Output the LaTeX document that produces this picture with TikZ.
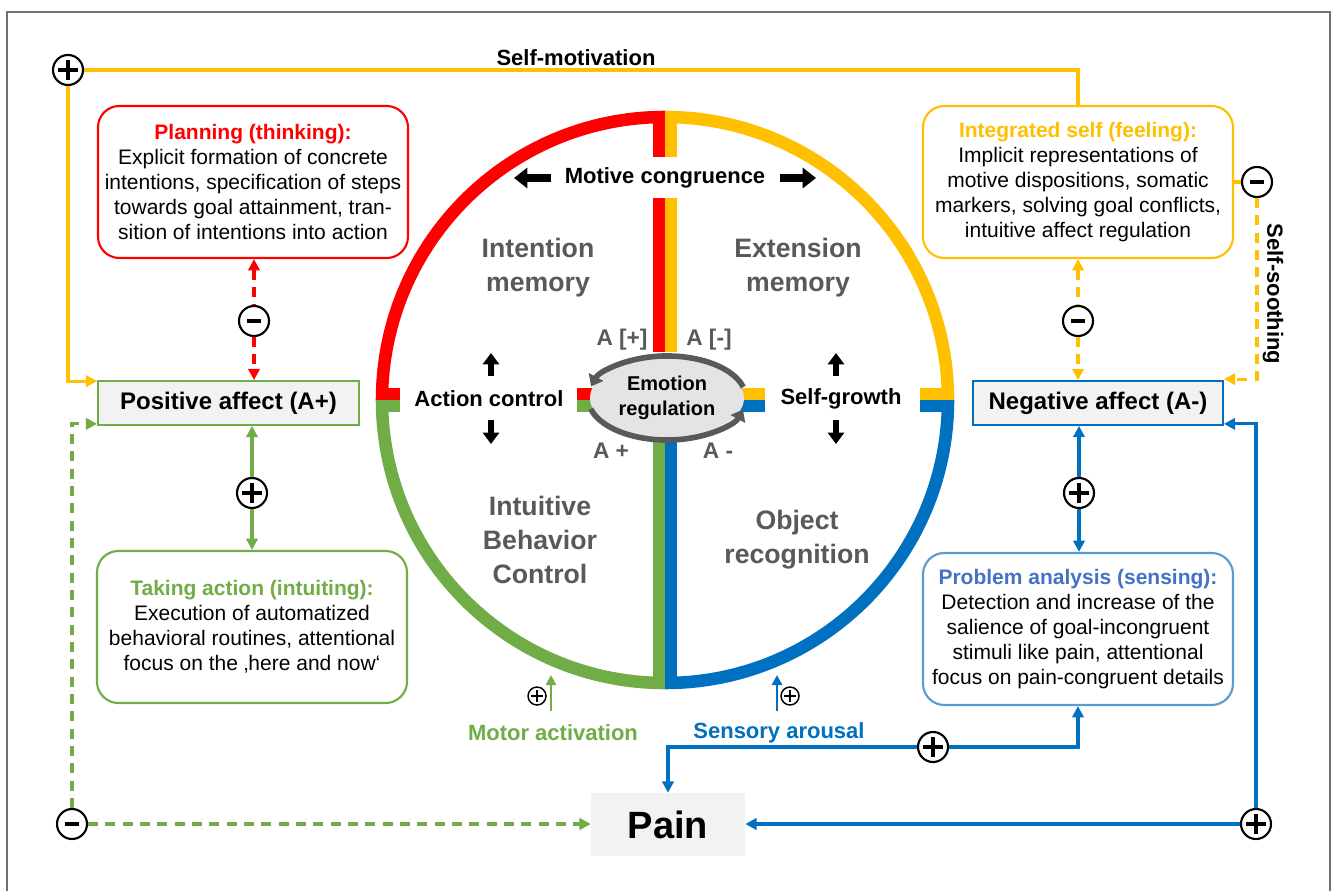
\documentclass[tikz,border=0pt]{standalone}
\usepackage{fontspec}
\setmainfont{Liberation Sans}
\usetikzlibrary{arrows.meta,calc,shapes.geometric}
\definecolor{cred}{HTML}{FF0000}
\definecolor{cylw}{HTML}{FFC000}
\definecolor{cgrn}{HTML}{70AD47}
\definecolor{cblu}{HTML}{0070C0}
\definecolor{cblutwo}{HTML}{5B9BD5}
\definecolor{cbluthree}{HTML}{4472C4}
\definecolor{cgray}{HTML}{595959}
\definecolor{cbox}{HTML}{F2F2F2}
\definecolor{cell}{HTML}{E4E4E4}
\definecolor{cframe}{HTML}{707070}
\begin{document}
\begin{tikzpicture}[x=0.75pt,y=-0.75pt,
  >={Triangle[length=8.5pt,width=8.5pt]},
  conn/.style={line width=2.4pt},
  dsh/.style={dash pattern=on 7.5pt off 5.5pt},
  ring/.style={line width=9.4pt},
  infobox/.style={draw, line width=1.6pt, rounded corners=16pt, minimum width=232.5pt, minimum height=114pt, align=center, fill=white, inner sep=0pt, font=\fontsize{15.75}{18.75}\selectfont},
  affbox/.style={fill=cbox, line width=1.3pt, minimum height=33pt, inner sep=0pt, font=\bfseries\fontsize{18}{21}\selectfont},
  lbl/.style={font=\bfseries\fontsize{16.5}{19}\selectfont, inner sep=0pt},
  qlbl/.style={font=\bfseries\fontsize{20}{25.5}\selectfont, text=cgray, align=center, inner sep=0pt},
  albl/.style={font=\bfseries\fontsize{17}{20}\selectfont, text=cgray, inner sep=0pt},
  fatarrow/.style={line width=6pt, -{Triangle[length=10pt,width=15pt]}},
  vfat/.style={line width=4.5pt, -{Triangle[length=8.5pt,width=12pt]}},
  pmc/.style={circle, draw=black, line width=1.6pt, fill=white, minimum size=22.5pt, inner sep=0pt},
  plus/.style={pmc, path picture={
     \draw[line width=2.6pt] ([xshift=-7.5pt]path picture bounding box.center) -- ([xshift=7.5pt]path picture bounding box.center);
     \draw[line width=2.6pt] ([yshift=-7.5pt]path picture bounding box.center) -- ([yshift=7.5pt]path picture bounding box.center);}},
  minus/.style={pmc, path picture={
     \draw[line width=3.6pt] ([xshift=-5pt]path picture bounding box.center) -- ([xshift=5pt]path picture bounding box.center);}},
  splus/.style={circle, draw=black, line width=1.1pt, fill=white, minimum size=13.5pt, inner sep=0pt, path picture={
     \draw[line width=1.5pt] ([xshift=-4.5pt]path picture bounding box.center) -- ([xshift=4.5pt]path picture bounding box.center);
     \draw[line width=1.5pt] ([yshift=-4.5pt]path picture bounding box.center) -- ([yshift=4.5pt]path picture bounding box.center);}}
]
\useasboundingbox (0,0) rectangle (1331,891);
\fill[white] (0,0) rectangle (1331,891);
\draw[cframe, line width=1.1pt] (7,900) -- (7,12) -- (1330,12) -- (1330,900);

% ---- ring ----
\draw[cred, ring] (382,400) arc[start angle=180, end angle=270, radius=283];
\draw[cylw, ring] (665,117) arc[start angle=270, end angle=360, radius=283];
\draw[cblu, ring] (948,400) arc[start angle=0, end angle=90, radius=283];
\draw[cgrn, ring] (665,683) arc[start angle=90, end angle=180, radius=283];
% ticks and bars
\fill[cred] (376,388) rectangle (400,400);
\fill[cgrn] (376,400) rectangle (400,412);
\fill[cylw] (920,388) rectangle (954,400);
\fill[cblu] (920,400) rectangle (954,412);
\fill[cred] (653,111) rectangle (665,157);
\fill[cylw] (665,111) rectangle (677,157);
\fill[cred] (653,198) rectangle (665,352);
\fill[cylw] (665,198) rectangle (677,352);
\fill[cgrn] (653,442) rectangle (665,689);
\fill[cblu] (665,442) rectangle (677,689);
\fill[cred] (577,388) rectangle (600,400);
\fill[cgrn] (577,400) rectangle (600,412);
\fill[cylw] (735,388) rectangle (765,400);
\fill[cblu] (735,400) rectangle (765,412);

% ---- emotion regulation ----
\node[ellipse, fill=cell, minimum width=115.5pt, minimum height=60pt, inner sep=0pt, align=center,
      font=\bfseries\fontsize{15}{18.75}\selectfont] (emo) at (667,398) {Emotion\\regulation};
\draw[cgray, line width=4.2pt, -{Triangle[length=8pt,width=12pt]}]
  ($(emo.center)+(76.3,-10.9)$) arc[start angle=-15, end angle=-164, x radius=79, y radius=42];
\draw[cgray, line width=4.2pt, -{Triangle[length=8pt,width=12pt]}]
  ($(emo.center)+(-76.3,10.9)$) arc[start angle=165, end angle=16, x radius=79, y radius=42];

% ---- labels inside circle ----
\node[lbl] (mc) at (665,178) {Motive congruence};
\coordinate (mcl0) at (551,178); \coordinate (mcl1) at (514,178);
\coordinate (mcr0) at (780,178); \coordinate (mcr1) at (816,178);
\draw[fatarrow] (mcl0) -- (mcl1);
\draw[fatarrow] (mcr0) -- (mcr1);
\node[qlbl] (im) at (538,268) {Intention\\memory};
\node[qlbl] (em) at (798,268) {Extension\\memory};
\node[qlbl] (ib) at (540,540) {Intuitive\\Behavior\\Control};
\node[qlbl] (orc) at (797,540) {Object\\recognition};
\node[lbl] (ac) at (489,399) {Action control};
\node[lbl] (sg) at (841,399) {Self-growth};
\coordinate (acu0) at (491,376); \coordinate (acu1) at (491,353);
\coordinate (acd0) at (491,420); \coordinate (acd1) at (491,444);
\coordinate (sgu0) at (836,376); \coordinate (sgu1) at (836,353);
\coordinate (sgd0) at (836,420); \coordinate (sgd1) at (836,444);
\draw[vfat] (acu0) -- (acu1); \draw[vfat] (acd0) -- (acd1);
\draw[vfat] (sgu0) -- (sgu1); \draw[vfat] (sgd0) -- (sgd1);
\node[albl] (ap) at (622,340) {A [+]};
\node[albl] (am) at (709,340) {A [-]};
\node[albl] (ap2) at (611,451) {A +};
\node[albl] (am2) at (718,451) {A -};

% ---- boxes ----
\node[infobox, draw=cred] (plan) at (253,182) {\textcolor{cred}{\bfseries Planning (thinking):}\\Explicit formation of concrete\\intentions, specification of steps\\towards goal attainment, tran-\\sition of intentions into action};
\node[infobox, draw=cylw] (ints) at (1078,182) {\textcolor{cylw}{\bfseries Integrated self (feeling):}\\Implicit representations of\\motive dispositions, somatic\\markers, solving goal conflicts,\\intuitive affect regulation};
\node[infobox, draw=cgrn] (act) at (252,627) {\textcolor{cgrn}{\bfseries Taking action (intuiting):}\\Execution of automatized\\behavioral routines, attentional\\focus on the ‚here and now‘};
\node[infobox, draw=cblutwo] (prob) at (1078,629) {\textcolor{cbluthree}{\bfseries Problem analysis (sensing):}\\Detection and increase of the\\salience of goal-incongruent\\stimuli like pain, attentional\\focus on pain-congruent details};
\node[affbox, draw=cgrn, minimum width=195.75pt] (posA) at (228.5,403) {Positive affect (A+)};
\node[affbox, draw=cblu, minimum width=187.5pt] (negA) at (1098,403) {Negative affect (A-)};
\node[fill=cbox, minimum width=115.5pt, minimum height=47.25pt, inner sep=0pt, font=\bfseries\fontsize{28.5}{32}\selectfont] (pain) at (668,824.5) {Pain};

% ---- signs ----
\node[plus] (smP) at (68,70) {};
\node[minus] (planM) at (254,321) {};
\node[minus] (intM) at (1078,321) {};
\node[minus] (ssM) at (1257,182) {};
\node[plus] (posP) at (252,493) {};
\node[plus] (negP) at (1079,493) {};
\node[minus] (gM) at (72,824) {};
\node[plus] (bPr) at (1256,824) {};
\node[plus] (bPb) at (933,747) {};
\node[splus] (maP) at (537,696) {};
\node[splus] (saP) at (790,696) {};

% ---- connectors ----
\draw[conn, cylw] (ints.north) |- (smP);
\node[lbl] (smlbl) at (576,58) {Self-motivation};
\draw[conn, cylw, ->] (smP) |- ($(posA.north west)+(0,1)$);

\draw[conn, cred, dsh, <-] (plan.south -| planM) -- (planM);
\draw[conn, cred, dsh, ->] (planM) -- (planM |- posA.north);
\draw[conn, cylw, dsh, <-] (ints.south -| intM) -- (intM);
\draw[conn, cylw, dsh, ->] (intM) -- (intM |- negA.north);

\draw[conn, cylw] (ints.east |- ssM) -- (ssM);
\draw[conn, cylw, dsh, ->] (ssM) |- ($(negA.north east)+(0,-1)$);
\node[lbl, rotate=-90] (sslbl) at (1273,294) {Self-soothing};

\draw[conn, cgrn, <-] (posA.south -| posP) -- (posP);
\draw[conn, cgrn, ->] (posP) -- (posP |- act.north);
\draw[conn, cblu, <-] (negA.south -| negP) -- (negP);
\draw[conn, cblu, ->] (negP) -- (negP |- prob.north);

\draw[conn, cgrn, dsh, ->] (gM) |- ($(posA.south west)+(0,-2)$);
\draw[conn, cgrn, dsh, ->] (gM) -- (gM -| pain.west);

\draw[conn, cblu, ->] (bPr) |- ($(negA.south east)+(0,-2)$);
\draw[conn, cblu, ->] (bPr) -- (bPr -| pain.east);

\draw[conn, cblu, <-] (prob.south) |- (bPb);
\draw[conn, cblu, ->] (bPb) -| (pain.north);

\coordinate (ma0) at (551,711); \coordinate (ma1) at (551,675);
\coordinate (sa0) at (777,711); \coordinate (sa1) at (777,675);
\draw[line width=1.9pt, cgrn, -{Triangle[length=7.5pt,width=7.5pt]}] (ma0) -- (ma1);
\draw[line width=1.9pt, cblu, -{Triangle[length=7.5pt,width=7.5pt]}] (sa0) -- (sa1);
\node[lbl, text=cgrn] (malbl) at (553,733) {Motor activation};
\node[lbl, text=cblu] (salbl) at (779,733) {Sensory arousal};
\end{tikzpicture}
\end{document}
